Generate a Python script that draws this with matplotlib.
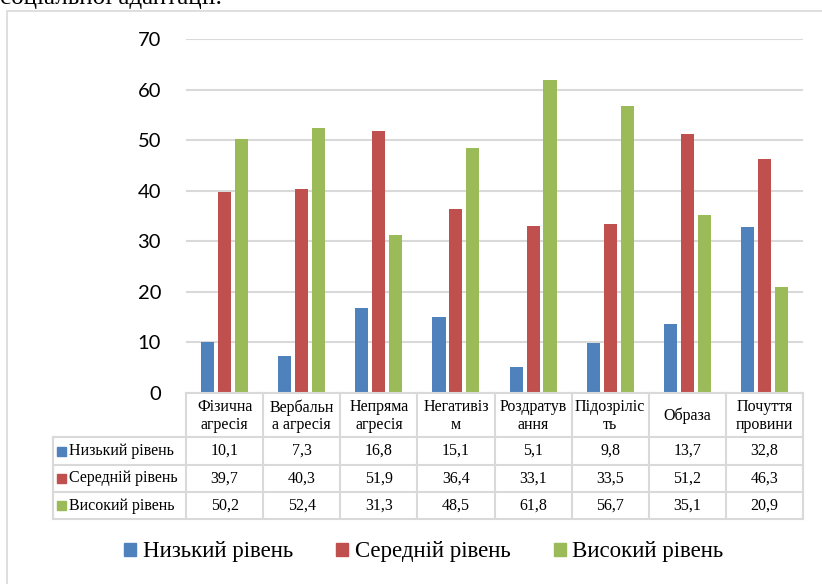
import matplotlib

matplotlib.use("Agg")
import matplotlib.pyplot as plt
from matplotlib.lines import Line2D
from matplotlib.patches import Rectangle

categories = ["Фізична\nагресія", "Вербальн\nа агресія", "Непряма\nагресія",
              "Негативіз\nм", "Роздратув\nання", "Підозріліс\nть", "Образа",
              "Почуття\nпровини"]
series_names = ["Низький рівень", "Середній рівень", "Високий рівень"]
low = [10.1, 7.3, 16.8, 15.1, 5.1, 9.8, 13.7, 32.8]
mid = [39.7, 40.3, 51.9, 36.4, 33.1, 33.5, 51.2, 46.3]
high = [50.2, 52.4, 31.3, 48.5, 61.8, 56.7, 35.1, 20.9]
yticks = [0, 10, 20, 30, 40, 50, 60, 70]

colors = ["#4F81BD", "#C0504D", "#9BBB59"]
grid_c = "#d9d9d9"
serif = "Liberation Serif"
sans = "Lato"

plt.rcParams["font.family"] = [serif, "DejaVu Serif"]

W, H = 822, 584


def fx(px):
    return px / W


def fy(py):
    return 1 - py / H


fig = plt.figure(figsize=(W / 100, H / 100), dpi=100)
fig.patch.set_facecolor("white")

# caption fragment cut at the top of the picture
fig.text(fx(0), fy(4), "соціальної адаптації.", fontfamily=serif, fontsize=18,
         ha="left", va="baseline")

# chart frame
fig.patches.append(Rectangle((fx(7), fy(600)), fx(900), fy(11) - fy(600),
                             transform=fig.transFigure, fill=False,
                             edgecolor=grid_c, lw=1.2))

left, right, top, bottom = 186, 803, 39, 393
ax = fig.add_axes([fx(left), fy(bottom), fx(right) - fx(left), fy(top) - fy(bottom)])
n = len(categories)
x = list(range(n))
w = 0.17
off = 0.22
for k, vals in enumerate([low, mid, high]):
    ax.bar([i + (k - 1) * off for i in x], vals, width=w, color=colors[k],
           label=series_names[k], zorder=3)

ax.set_xlim(-0.5, n - 0.5)
ax.set_ylim(0, 70)
ax.set_yticks(yticks)
ax.set_yticklabels([str(t) for t in yticks], fontfamily=sans, fontsize=14.5)
ax.tick_params(axis="y", length=0, pad=18)
ax.set_xticks([])
ax.yaxis.grid(True, color=grid_c, lw=1.5, zorder=0)
for s in ax.spines.values():
    s.set_visible(False)

# data table under the chart
col_w = (right - left) / n
row_lines = [393, 437, 465, 492, 519]
lab_left = 53


def hline(y, x0, x1):
    fig.add_artist(Line2D([fx(x0), fx(x1)], [fy(y), fy(y)], color=grid_c, lw=1.5,
                          transform=fig.transFigure))


def vline(xp, y0, y1):
    fig.add_artist(Line2D([fx(xp), fx(xp)], [fy(y0), fy(y1)], color=grid_c, lw=1.5,
                          transform=fig.transFigure))


hline(row_lines[0], left, right)
for y in row_lines[1:]:
    hline(y, lab_left, right)
for i in range(n + 1):
    vline(left + i * col_w, row_lines[0], row_lines[-1])
vline(lab_left, row_lines[1], row_lines[-1])

for i, cat in enumerate(categories):
    cx = left + (i + 0.5) * col_w
    fig.text(fx(cx), fy((row_lines[0] + row_lines[1]) / 2 + 1), cat, fontfamily=serif,
             fontsize=11.5, ha="center", va="center", linespacing=1.1)

for r, vals in enumerate([low, mid, high]):
    cy = (row_lines[r + 1] + row_lines[r + 2]) / 2
    fig.patches.append(Rectangle((fx(57), fy(cy + 4.5)), fx(9), fy(cy - 4.5) - fy(cy + 4.5),
                                 transform=fig.transFigure, color=colors[r]))
    fig.text(fx(69), fy(cy), series_names[r], fontfamily=serif, fontsize=11.5,
             ha="left", va="center")
    for i, v in enumerate(vals):
        cx = left + (i + 0.5) * col_w
        fig.text(fx(cx), fy(cy), f"{v:.1f}".replace(".", ","), fontfamily=serif,
                 fontsize=11.5, ha="center", va="center")

handles = [Rectangle((0, 0), 1, 1, color=c) for c in colors]
fig.legend(handles, series_names, loc="center", bbox_to_anchor=(fx(424), fy(552)),
           ncol=3, frameon=False, prop={"family": serif, "size": 16.5},
           handlelength=0.5, handleheight=0.5, handletextpad=0.3,
           columnspacing=1.9)

fig.savefig("out.png", dpi=100)
